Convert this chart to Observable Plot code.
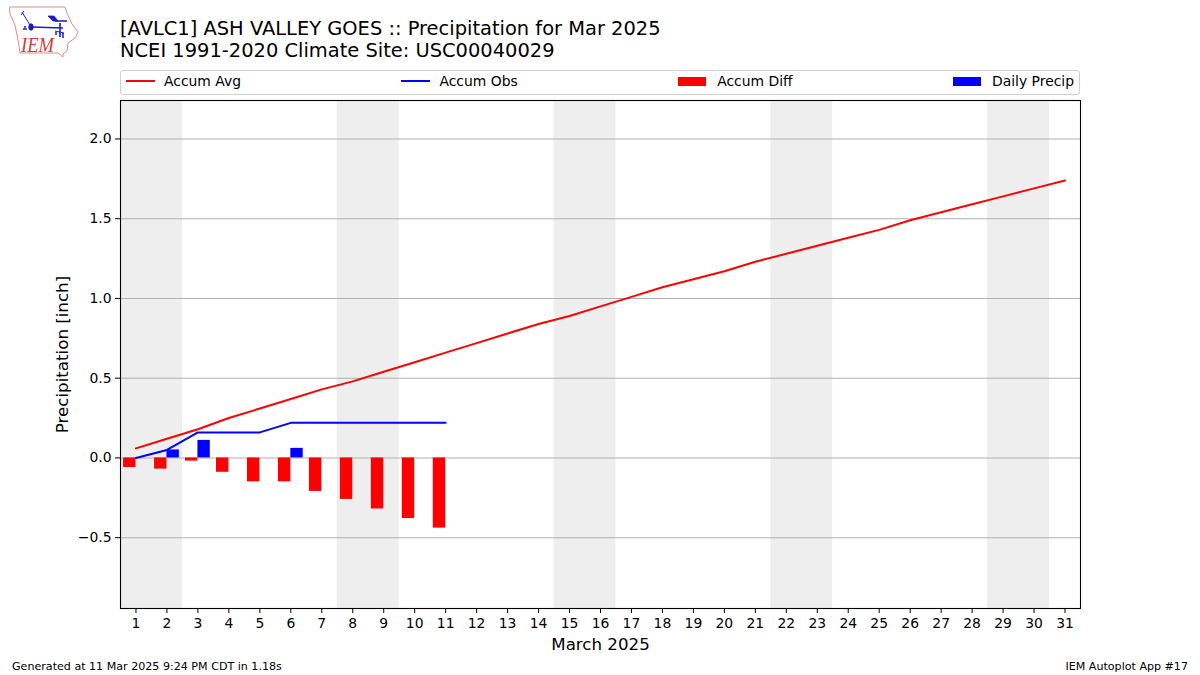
<!DOCTYPE html>
<html>
<head>
<meta charset="utf-8">
<script src="https://cdn.jsdelivr.net/npm/d3@7"></script>
<script src="https://cdn.jsdelivr.net/npm/@observablehq/plot@0.6"></script>
<style>
html,body{margin:0;padding:0;background:#fff;}
#page{position:relative;width:1200px;height:675px;overflow:hidden;font-family:"DejaVu Sans",sans-serif;color:#000;}
#title{position:absolute;left:120px;top:18px;font-size:19.45px;line-height:22px;white-space:pre;}
#legend{position:absolute;left:120px;top:70px;width:960px;height:25px;box-sizing:border-box;border:1px solid #d0d0d0;border-radius:3px;display:flex;justify-content:space-between;align-items:center;padding:0 5px 4px;font-size:13.9px;line-height:16px;}
.item{display:flex;align-items:center;white-space:pre;}
.line{width:29px;height:2px;margin-right:9px;}
.bar{width:28px;height:9px;margin-right:11px;position:relative;top:1px;}
#chart{position:absolute;left:0;top:90px;}
#chart svg{display:block;}
.foot{position:absolute;top:660px;font-size:11.1px;line-height:13px;white-space:pre;}
#logo{position:absolute;left:0;top:0;}
</style>
</head>
<body>
<div id="page">
<svg id="logo" width="90" height="62" viewBox="0 0 90 62">
<path d="M9.5 7 L65 7 L67 13 L72 24 L78 32 L75 38 L68 43 L67 51 L63 54 L63 57 L58 53 L20 53 L18 40 L15 25 L10 14 Z" fill="#fff" stroke="#e58a8a" stroke-width="1"/>
<g stroke="#1a1ad0" fill="none">
<path d="M31 27 L63 28 M55 21 L67 21 M60 23 L60 37" stroke-width="1.6"/>
<path d="M48 16 L54 16 L58 21 L53 21 Z" fill="#1a1ad0" stroke-width="0.8"/>
<path d="M22 12 L25 17 L30 25 M21 15 L24 11 M55 31 L64 33" stroke-width="1"/>
<ellipse cx="31" cy="27" rx="2.2" ry="3.2" fill="#1a1ad0"/>
<path d="M23 29 L27 29 M25 26 L25 28 M56 32 L56 35 M63 33 L63 38" stroke-width="1.5"/>
</g>
<text x="21" y="52" font-family="Liberation Serif" font-style="italic" font-size="21" textLength="33" lengthAdjust="spacingAndGlyphs" fill="#d83a3a">IEM</text>
</svg>
<div id="title">[AVLC1] ASH VALLEY GOES :: Precipitation for Mar 2025
NCEI 1991-2020 Climate Site: USC00040029</div>
<div id="legend">
<div class="item"><span class="line" style="background:#f00"></span>Accum Avg</div>
<div class="item"><span class="line" style="background:#00f"></span>Accum Obs</div>
<div class="item"><span class="bar" style="background:#f00"></span>Accum Diff</div>
<div class="item"><span class="bar" style="background:#00f"></span>Daily Precip</div>
</div>
<div id="chart"></div>
<div class="foot" style="left:12px">Generated at 11 Mar 2025 9:24 PM CDT in 1.18s</div>
<div class="foot" style="right:12px">IEM Autoplot App #17</div>
</div>
<script>
const days = d3.range(1, 32);
const accumAvg = [0.06,0.12,0.18,0.25,0.31,0.37,0.43,0.48,0.54,0.60,0.66,0.72,0.78,0.84,0.89,0.95,1.01,1.07,1.12,1.17,1.23,1.28,1.33,1.38,1.43,1.49,1.54,1.59,1.64,1.69,1.74];
const accumObs = [0,0.05,0.16,0.16,0.16,0.22,0.22,0.22,0.22,0.22,0.22];
const accumDiff = [-0.06,-0.07,-0.02,-0.09,-0.15,-0.15,-0.21,-0.26,-0.32,-0.38,-0.44];
const dailyPrecip = [0,0.05,0.11,0,0,0.06,0,0,0,0,0];
const weekendStart = [0.5,7.5,14.5,21.5,28.5];
const weekendEnd = [2.5,9.5,16.5,23.5,30.5];
const yTicks = [-0.5,0,0.5,1,1.5,2];
const xLabel = "March 2025";
const yLabel = "Precipitation [inch]";

const avgRows = days.map((d,i)=>({d,v:accumAvg[i]}));
const obsRows = accumObs.map((v,i)=>({d:days[i],v}));
const diffRows = accumDiff.map((v,i)=>({d:days[i],v}));
const dailyRows = dailyPrecip.map((v,i)=>({d:days[i],v})).filter(r=>r.v>0);
const barW = 0.4;

const plot = Plot.plot({
  width:1200, height:570,
  marginLeft:120, marginRight:120, marginTop:10, marginBottom:52,
  style:{fontFamily:'"DejaVu Sans",sans-serif',fontSize:"13.9px",color:"#000",background:"transparent",overflow:"visible"},
  x:{type:"linear",domain:[0.5,31.5]},
  y:{domain:[-0.944,2.241]},
  marks:[
    Plot.rectX(weekendStart.map((s,i)=>({s,e:weekendEnd[i]})),{x1:"s",x2:"e",fill:"#eeeeee"}),
    Plot.ruleY(yTicks,{stroke:"#b0b0b0",strokeWidth:1.1}),
    Plot.rectY(diffRows,{x1:d=>d.d-barW,x2:"d",y1:0,y2:"v",fill:"#f00"}),
    Plot.rectY(dailyRows,{x1:"d",x2:d=>d.d+barW,y1:0,y2:"v",fill:"#00f"}),
    Plot.line(avgRows,{x:"d",y:"v",stroke:"#f00",strokeWidth:2}),
    Plot.line(obsRows,{x:"d",y:"v",stroke:"#00f",strokeWidth:2}),
    Plot.frame({stroke:"#000",strokeWidth:1.1}),
    Plot.axisX(days,{tickSize:5,tickPadding:5,tickFormat:d=>String(d),label:xLabel,labelAnchor:"center",labelArrow:"none",labelOffset:41}),
    Plot.axisY(yTicks,{tickSize:5,tickPadding:4,tickFormat:d3.format(".1f"),label:yLabel,labelAnchor:"center",labelArrow:"none",labelOffset:64})
  ]
});
plot.querySelectorAll("text").forEach(t=>{
  if (t.textContent===xLabel || t.textContent===yLabel) t.style.fontSize="16.67px";
});
document.getElementById("chart").appendChild(plot);
</script>
</body>
</html>
